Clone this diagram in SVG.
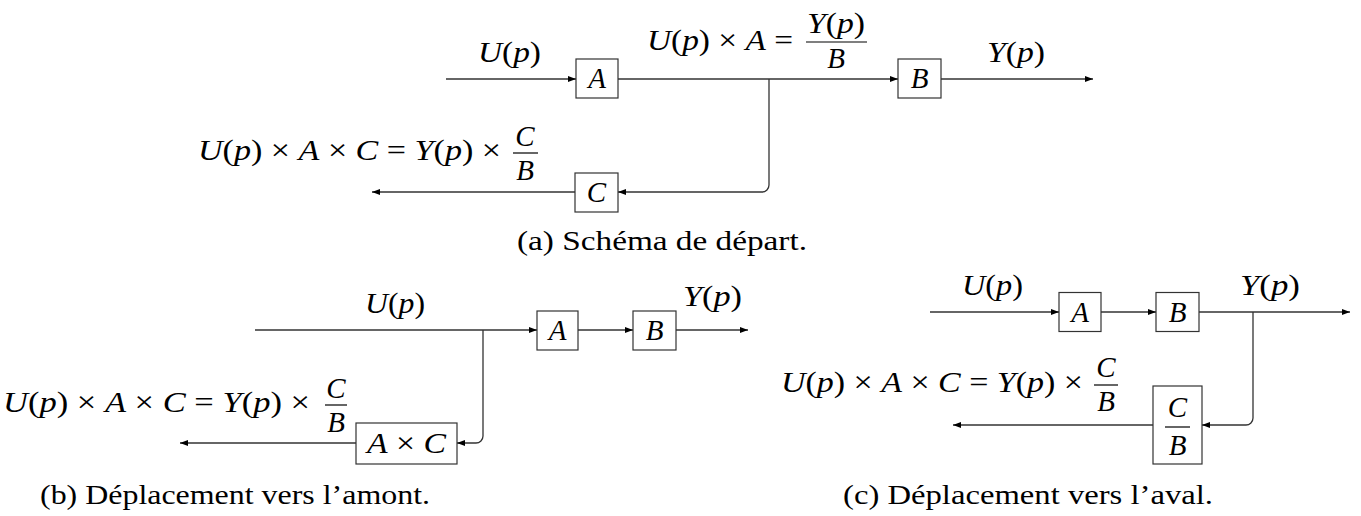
<svg xmlns="http://www.w3.org/2000/svg" width="1361" height="516" viewBox="0 0 1361 516">
<style>
text{font-family:"Liberation Serif","Times New Roman",serif;fill:#000}
.m{font-size:29px}
.i{font-style:italic}
.c{text-anchor:middle}
.cap{font-size:27px;text-anchor:middle}
.box{fill:#fff;stroke:#333;stroke-width:1.2}
.ln{fill:none;stroke:#333;stroke-width:1.3}
.bar{stroke:#000;stroke-width:1.2}
.ar{marker-end:url(#ah)}
</style>
<defs>
<marker id="ah" markerUnits="userSpaceOnUse" markerWidth="8" markerHeight="6" refX="8" refY="3" orient="auto">
<path d="M0,0 L8,3 L0,6 Z" fill="#000"/>
</marker>
</defs>

<g id="connectors">
<path class="ln ar" d="M446 79 H576"/>
<path class="ln ar" d="M618 79 H898"/>
<path class="ln ar" d="M941 79 H1093"/>
<path class="ln ar" d="M769 79 V185 A7 7 0 0 1 762 192 H618"/>
<path class="ln ar" d="M575 192 H372"/>

<path class="ln ar" d="M255 330 H537"/>
<path class="ln ar" d="M578 330 H633"/>
<path class="ln ar" d="M676 330 H748"/>
<path class="ln ar" d="M483 330 V436 A7 7 0 0 1 476 443 H457"/>
<path class="ln ar" d="M356 443 H180"/>

<path class="ln ar" d="M930 312 H1059"/>
<path class="ln ar" d="M1101 312 H1156"/>
<path class="ln ar" d="M1199 312 H1350"/>
<path class="ln ar" d="M1253 312 V418 A7 7 0 0 1 1246 425 H1202"/>
<path class="ln ar" d="M1153 425 H953"/>
</g>

<g id="a-nodeA"><rect class="box" x="576" y="59" width="42" height="39"/><text class="m i c" x="597" y="88">A</text></g>
<g id="a-nodeB"><rect class="box" x="898" y="59" width="43" height="39"/><text class="m i c" x="919.5" y="88">B</text></g>
<g id="a-nodeC"><rect class="box" x="575" y="173" width="43" height="39"/><text class="m i c" x="596.5" y="202">C</text></g>

<g id="a-labels">
<text class="m" x="478" y="62" textLength="63" lengthAdjust="spacingAndGlyphs"><tspan class="i">U</tspan>(<tspan class="i">p</tspan>)</text>
<text class="m" x="647" y="50" textLength="146" lengthAdjust="spacingAndGlyphs"><tspan class="i">U</tspan>(<tspan class="i">p</tspan>) × <tspan class="i">A</tspan> =</text>
<text class="m" x="807" y="33" textLength="58" lengthAdjust="spacingAndGlyphs"><tspan class="i">Y</tspan>(<tspan class="i">p</tspan>)</text>
<line class="bar" x1="806" y1="42" x2="867" y2="42"/>
<text class="m i c" x="836" y="68">B</text>
<text class="m" x="987" y="62" textLength="58" lengthAdjust="spacingAndGlyphs"><tspan class="i">Y</tspan>(<tspan class="i">p</tspan>)</text>
<text class="m" x="198" y="160" textLength="303" lengthAdjust="spacingAndGlyphs"><tspan class="i">U</tspan>(<tspan class="i">p</tspan>) × <tspan class="i">A</tspan> × <tspan class="i">C</tspan> = <tspan class="i">Y</tspan>(<tspan class="i">p</tspan>) ×</text>
<text class="m i c" x="525" y="146">C</text>
<line class="bar" x1="513" y1="153" x2="538" y2="153"/>
<text class="m i c" x="525" y="180">B</text>
<text class="cap" x="662" y="250" textLength="290" lengthAdjust="spacingAndGlyphs">(a) Schéma de départ.</text>
</g>

<g id="b-nodeA"><rect class="box" x="537" y="311" width="41" height="39"/><text class="m i c" x="557.5" y="340">A</text></g>
<g id="b-nodeB"><rect class="box" x="633" y="311" width="43" height="39"/><text class="m i c" x="654.5" y="340">B</text></g>
<g id="b-nodeAC"><rect class="box" x="356" y="423" width="101" height="41"/><text class="m" x="367" y="453" textLength="79" lengthAdjust="spacingAndGlyphs"><tspan class="i">A</tspan> × <tspan class="i">C</tspan></text></g>

<g id="b-labels">
<text class="m" x="365" y="313" textLength="60" lengthAdjust="spacingAndGlyphs"><tspan class="i">U</tspan>(<tspan class="i">p</tspan>)</text>
<text class="m" x="683" y="306" textLength="59" lengthAdjust="spacingAndGlyphs"><tspan class="i">Y</tspan>(<tspan class="i">p</tspan>)</text>
<text class="m" x="3" y="412" textLength="307" lengthAdjust="spacingAndGlyphs"><tspan class="i">U</tspan>(<tspan class="i">p</tspan>) × <tspan class="i">A</tspan> × <tspan class="i">C</tspan> = <tspan class="i">Y</tspan>(<tspan class="i">p</tspan>) ×</text>
<text class="m i c" x="336" y="398">C</text>
<line class="bar" x1="325" y1="405" x2="347" y2="405"/>
<text class="m i c" x="336" y="432">B</text>
<text class="cap" x="235" y="504" textLength="390" lengthAdjust="spacingAndGlyphs">(b) Déplacement vers l’amont.</text>
</g>

<g id="c-nodeA"><rect class="box" x="1059" y="292.5" width="42" height="39"/><text class="m i c" x="1080" y="321.5">A</text></g>
<g id="c-nodeB"><rect class="box" x="1156" y="292.5" width="43" height="39"/><text class="m i c" x="1177.5" y="321.5">B</text></g>
<g id="c-nodeCB"><rect class="box" x="1153" y="386" width="49" height="78"/>
<text class="m i c" x="1177.5" y="417">C</text>
<line class="bar" x1="1165" y1="427" x2="1190" y2="427"/>
<text class="m i c" x="1177.5" y="455">B</text></g>

<g id="c-labels">
<text class="m" x="962" y="295" textLength="61" lengthAdjust="spacingAndGlyphs"><tspan class="i">U</tspan>(<tspan class="i">p</tspan>)</text>
<text class="m" x="1240" y="295" textLength="60" lengthAdjust="spacingAndGlyphs"><tspan class="i">Y</tspan>(<tspan class="i">p</tspan>)</text>
<text class="m" x="781" y="392" textLength="302" lengthAdjust="spacingAndGlyphs"><tspan class="i">U</tspan>(<tspan class="i">p</tspan>) × <tspan class="i">A</tspan> × <tspan class="i">C</tspan> = <tspan class="i">Y</tspan>(<tspan class="i">p</tspan>) ×</text>
<text class="m i c" x="1106" y="377">C</text>
<line class="bar" x1="1094" y1="385" x2="1118" y2="385"/>
<text class="m i c" x="1106" y="411">B</text>
<text class="cap" x="1028" y="504" textLength="370" lengthAdjust="spacingAndGlyphs">(c) Déplacement vers l’aval.</text>
</g>
</svg>
